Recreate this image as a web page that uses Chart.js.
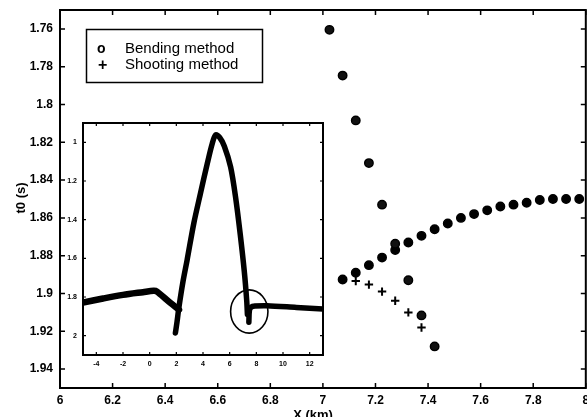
<!DOCTYPE html>
<html><head><meta charset="utf-8">
<script src="https://cdn.jsdelivr.net/npm/chart.js@4.4.1/dist/chart.umd.min.js"></script>
<style>
html,body{margin:0;padding:0;background:#fff;overflow:hidden;width:587px;height:417px;position:relative;}
#main{position:absolute;left:0;top:0;width:592px;height:417px;}
#inset{position:absolute;left:60px;top:115px;width:270px;height:260px;}
</style></head><body>
<div id="main"><canvas id="c1"></canvas></div>
<div id="inset"><canvas id="c2"></canvas></div>
<script>
// ---- main chart data ----
const xTicks = [6, 6.2, 6.4, 6.6, 6.8, 7, 7.2, 7.4, 7.6, 7.8, 8];
const yTicks = [1.76, 1.78, 1.8, 1.82, 1.84, 1.86, 1.88, 1.9, 1.92, 1.94];
const bendAX = [7.025, 7.075, 7.125, 7.175, 7.225, 7.275, 7.325, 7.375, 7.425];
const bendAT = [1.7605, 1.7847, 1.8084, 1.831, 1.853, 1.8737, 1.893, 1.9116, 1.928];
const bendBX = [7.075, 7.125, 7.175, 7.225, 7.275, 7.325, 7.375, 7.425, 7.475, 7.525, 7.575, 7.625, 7.675, 7.725, 7.775, 7.825, 7.875, 7.925, 7.975];
const bendBT = [1.8926, 1.889, 1.885, 1.881, 1.877, 1.873, 1.8695, 1.866, 1.863, 1.860, 1.858, 1.856, 1.854, 1.853, 1.852, 1.8505, 1.850, 1.850, 1.850];
const shootX = [7.125, 7.175, 7.225, 7.275, 7.325, 7.375];
const shootT = [1.8934, 1.8953, 1.899, 1.9038, 1.910, 1.918];
const legendLabels = ['Bending method', 'Shooting method'];
const xTitle = 'X (km)';
const yTitle = 't0 (s)';

// ---- inset data ----
const insetXTicks = [-4, -2, 0, 2, 4, 6, 8, 10, 12];
const insetYTicks = [1, 1.2, 1.4, 1.6, 1.8, 2];
const insetLeftX = [-5, -3.5, -2, -0.5, 0.3, 0.55, 1.3, 2.2];
const insetLeftT = [1.829, 1.808, 1.789, 1.775, 1.768, 1.772, 1.816, 1.866];
const insetMidX = [1.93, 2.05, 2.18, 2.5, 2.81, 3.31, 3.81, 4.32, 4.69, 4.95, 5.25, 5.6, 6.07, 6.44, 6.8, 7.1, 7.28, 7.33];
const insetMidT = [1.986, 1.93, 1.86, 1.72, 1.608, 1.419, 1.264, 1.11, 1.007, 0.962, 0.975, 1.02, 1.127, 1.282, 1.48, 1.67, 1.82, 1.89];
const insetRightX = [7.44, 7.48, 7.6, 7.9, 8.8, 11, 13];
const insetRightT = [1.93, 1.87, 1.853, 1.847, 1.845, 1.854, 1.862];
const ellipseX = 7.47, ellipseT = 1.875, ellipseRX = 1.4, ellipseRT = 0.112;

const pts = (xs, ys) => xs.map((x, i) => ({x, y: ys[i]}));
const fmt = v => String(+(+v).toFixed(2));
const FONT = '"Liberation Sans", Arial, Helvetica, sans-serif';

function framePlugin(id) {
  return {
    id,
    afterDraw(chart, args, o) {
      const {ctx, chartArea: a, scales: {x, y}} = chart;
      ctx.save();
      ctx.strokeStyle = '#000';
      ctx.lineWidth = o.lw;
      ctx.strokeRect(a.left, a.top, a.right - a.left, a.bottom - a.top);
      ctx.lineWidth = o.tw;
      ctx.beginPath();
      x.ticks.forEach(t => {
        const p = x.getPixelForValue(t.value);
        ctx.moveTo(p, a.bottom); ctx.lineTo(p, a.bottom - o.len);
        ctx.moveTo(p, a.top); ctx.lineTo(p, a.top + o.len);
      });
      y.ticks.forEach(t => {
        const p = y.getPixelForValue(t.value);
        ctx.moveTo(a.left, p); ctx.lineTo(a.left + o.len, p);
        ctx.moveTo(a.right, p); ctx.lineTo(a.right - o.len, p);
      });
      ctx.stroke();
      ctx.restore();
    }
  };
}

const decorPlugin = {
  id: 'decor',
  afterDraw(chart) {
    const ctx = chart.ctx;
    ctx.save();
    ctx.strokeStyle = '#000'; ctx.fillStyle = '#000';
    ctx.lineWidth = 1.5;
    ctx.strokeRect(86.5, 29.5, 176, 53);
    ctx.textBaseline = 'alphabetic';
    ctx.textAlign = 'left';
    ctx.font = '15px ' + FONT;
    ctx.fillText(legendLabels[0], 125, 53);
    ctx.fillText(legendLabels[1], 125, 69);
    ctx.font = 'bold 14px ' + FONT;
    ctx.fillText('o', 97, 53);
    ctx.font = 'bold 16px ' + FONT;
    ctx.fillText('+', 98, 69.5);
    // axis titles
    ctx.font = 'bold 13px ' + FONT;
    ctx.textAlign = 'center';
    ctx.fillText(xTitle, 313, 419);
    ctx.translate(21, 198);
    ctx.rotate(-Math.PI / 2);
    ctx.textBaseline = 'middle';
    ctx.fillText(yTitle, 0, 0);
    ctx.restore();
  }
};

const ellipsePlugin = {
  id: 'ell',
  afterDatasetsDraw(chart) {
    const {ctx, scales: {x, y}} = chart;
    const cx = x.getPixelForValue(ellipseX), cy = y.getPixelForValue(ellipseT);
    const rx = Math.abs(x.getPixelForValue(ellipseX + ellipseRX) - cx);
    const ry = Math.abs(y.getPixelForValue(ellipseT + ellipseRT) - cy);
    ctx.save();
    ctx.strokeStyle = '#000'; ctx.lineWidth = 1.6;
    ctx.beginPath(); ctx.ellipse(cx, cy, rx, ry, 0, 0, Math.PI * 2); ctx.stroke();
    ctx.restore();
  }
};

const tickFontMain = {family: FONT, size: 12, weight: 'bold'};

new Chart(document.getElementById('c1'), {
  type: 'scatter',
  data: {
    datasets: [
      {label: legendLabels[0], data: pts(bendAX, bendAT), pointStyle: 'circle', pointRadius: 4.2, borderWidth: 1.5, borderColor: '#000', backgroundColor: '#111'},
      {label: legendLabels[0], data: pts(bendBX, bendBT), pointStyle: 'circle', pointRadius: 4.2, borderWidth: 1.5, borderColor: '#000', backgroundColor: '#000'},
      {label: legendLabels[1], data: pts(shootX, shootT), pointStyle: 'cross', pointRadius: 4.2, borderWidth: 2, borderColor: '#000', backgroundColor: '#000'}
    ]
  },
  options: {
    responsive: true, maintainAspectRatio: false, animation: false, devicePixelRatio: 1,
    layout: {padding: {top: 10, right: 3, left: 0, bottom: 0}},
    plugins: {legend: {display: false}, tooltip: {enabled: false}, frame1: {lw: 2, tw: 1.5, len: 5}},
    scales: {
      x: {type: 'linear', position: 'bottom', min: 6, max: 8,
        afterBuildTicks: s => { s.ticks = xTicks.map(v => ({value: v})); },
        afterFit: s => { s.height = 29; s.paddingLeft = 0; s.paddingRight = 0; },
        grid: {display: false, drawTicks: false}, border: {display: false},
        ticks: {font: tickFontMain, color: '#000', padding: 5, maxRotation: 0, autoSkip: false, callback: fmt}},
      y: {type: 'linear', min: 1.75, max: 1.95, reverse: true,
        afterBuildTicks: s => { s.ticks = yTicks.map(v => ({value: v})); },
        afterFit: s => { s.width = 60; s.paddingTop = 0; s.paddingBottom = 0; },
        grid: {display: false, drawTicks: false}, border: {display: false},
        ticks: {font: tickFontMain, color: '#000', padding: 7, autoSkip: false, callback: fmt}}
    }
  },
  plugins: [framePlugin('frame1'), decorPlugin]
});

const tickFontInset = {family: FONT, size: 7, weight: 'bold'};
const lineDs = (xs, ys, w) => ({data: pts(xs, ys), showLine: true, borderColor: '#000', borderWidth: w, pointRadius: 0, tension: 0.3, borderCapStyle: 'round', borderJoinStyle: 'round'});

new Chart(document.getElementById('c2'), {
  type: 'scatter',
  data: {
    datasets: [
      lineDs(insetLeftX, insetLeftT, 6.5),
      lineDs(insetMidX, insetMidT, 5.5),
      lineDs(insetRightX, insetRightT, 5.5)
    ]
  },
  options: {
    responsive: true, maintainAspectRatio: false, animation: false, devicePixelRatio: 1,
    layout: {padding: {top: 8, right: 7, left: 0, bottom: 0}},
    plugins: {legend: {display: false}, tooltip: {enabled: false}, frame2: {lw: 2, tw: 1.2, len: 3}},
    scales: {
      x: {type: 'linear', position: 'bottom', min: -5, max: 13,
        afterBuildTicks: s => { s.ticks = insetXTicks.map(v => ({value: v})); },
        afterFit: s => { s.height = 20; s.paddingLeft = 0; s.paddingRight = 0; },
        grid: {display: false, drawTicks: false}, border: {display: false},
        ticks: {font: tickFontInset, color: '#000', padding: 5, maxRotation: 0, autoSkip: false, callback: fmt}},
      y: {type: 'linear', min: 0.9, max: 2.1, reverse: true,
        afterBuildTicks: s => { s.ticks = insetYTicks.map(v => ({value: v})); },
        afterFit: s => { s.width = 23; s.paddingTop = 0; s.paddingBottom = 0; },
        grid: {display: false, drawTicks: false}, border: {display: false},
        ticks: {font: tickFontInset, color: '#000', padding: 6, autoSkip: false, callback: fmt}}
    }
  },
  plugins: [framePlugin('frame2'), ellipsePlugin]
});
</script>
</body></html>
